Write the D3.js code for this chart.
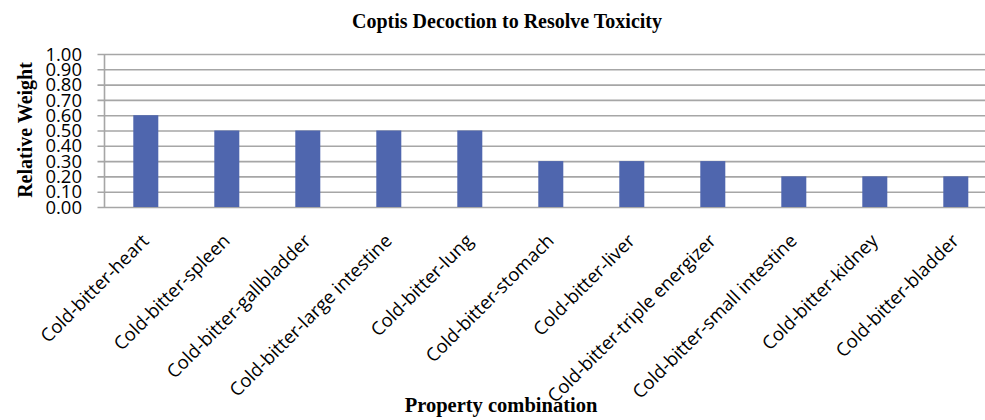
<!DOCTYPE html>
<html>
<head>
<meta charset="utf-8">
<script src="https://cdn.jsdelivr.net/npm/d3@7/dist/d3.min.js"></script>
<style>
  html, body { margin: 0; padding: 0; background: #fff; }
  svg { display: block; }
</style>
</head>
<body>
<svg id="chart" width="985" height="420"></svg>
<script>
// Property combinations and their relative weights
const categories = [
  "Cold-bitter-heart",
  "Cold-bitter-spleen",
  "Cold-bitter-gallbladder",
  "Cold-bitter-large intestine",
  "Cold-bitter-lung",
  "Cold-bitter-stomach",
  "Cold-bitter-liver",
  "Cold-bitter-triple energizer",
  "Cold-bitter-small intestine",
  "Cold-bitter-kidney",
  "Cold-bitter-bladder"
];
const weights = [0.60, 0.50, 0.50, 0.50, 0.50, 0.30, 0.30, 0.30, 0.20, 0.20, 0.20];
const yTicks = [0, 0.1, 0.2, 0.3, 0.4, 0.5, 0.6, 0.7, 0.8, 0.9, 1.0];

const titleText = "Coptis Decoction to Resolve Toxicity";
const xTitle = "Property combination";
const yTitle = "Relative Weight";

const svg = d3.select("#chart");

// Plot area (the right edge runs slightly past the canvas)
const plotLeft = 104.5, plotRight = 995.5, plotTop = 54, plotBottom = 207;

const x = d3.scaleBand().domain(categories).range([plotLeft, plotRight]).paddingInner(0).paddingOuter(0);
const y = d3.scaleLinear().domain([0, 1]).range([plotBottom, plotTop]);

const gridColor = "#a6a6a6";
const barColor = "#4f66ae";

// Horizontal gridlines with short tick stubs left of the axis
svg.append("g")
  .attr("transform", `translate(${plotLeft},0)`)
  .call(d3.axisLeft(y).tickValues(yTicks).tickSize(-(plotRight - plotLeft)).tickFormat(""))
  .call(g => g.select(".domain").remove())
  .call(g => g.selectAll("line")
      .attr("x1", -7)
      .attr("stroke", gridColor)
      .attr("stroke-width", 1.6));

// Y tick labels
svg.append("g")
  .selectAll("text")
  .data(yTicks)
  .join("text")
  .attr("x", 82)
  .attr("y", d => y(d))
  .attr("dy", "0.36em")
  .attr("text-anchor", "end")
  .attr("font-family", "'Open Sans', sans-serif")
  .attr("font-size", 18.5)
  .attr("fill", "#000")
  .text(d => d3.format(".2f")(d));

// Bars
const barW = 25;
svg.append("g")
  .selectAll("rect")
  .data(categories.map((c, i) => ({ c, v: weights[i] })))
  .join("rect")
  .attr("x", d => x(d.c) + x.bandwidth() / 2 - barW / 2 + 0.8)
  .attr("y", d => y(d.v))
  .attr("width", barW)
  .attr("height", d => y(0) - y(d.v))
  .attr("fill", barColor);

// Y axis line
svg.append("line")
  .attr("x1", plotLeft).attr("x2", plotLeft)
  .attr("y1", plotTop).attr("y2", plotBottom)
  .attr("stroke", gridColor)
  .attr("stroke-width", 1.6);

// Rotated category labels
svg.append("g")
  .selectAll("text")
  .data(categories)
  .join("text")
  .attr("transform", d => `translate(${x(d) + x.bandwidth() / 2 + 5},${242}) rotate(-45)`)
  .attr("text-anchor", "end")
  .attr("font-family", "'Open Sans', sans-serif")
  .attr("font-size", 18.5)
  .attr("fill", "#000")
  .text(d => d);

// Title
svg.append("text")
  .attr("x", 507).attr("y", 28)
  .attr("text-anchor", "middle")
  .attr("font-family", "'Liberation Serif', 'Times New Roman', serif")
  .attr("font-weight", "bold")
  .attr("font-size", 20)
  .text(titleText);

// X axis title
svg.append("text")
  .attr("x", 501).attr("y", 412)
  .attr("text-anchor", "middle")
  .attr("font-family", "'Liberation Serif', 'Times New Roman', serif")
  .attr("font-weight", "bold")
  .attr("font-size", 20.5)
  .text(xTitle);

// Y axis title
svg.append("text")
  .attr("transform", `translate(32,130) rotate(-90)`)
  .attr("text-anchor", "middle")
  .attr("font-family", "'Liberation Serif', 'Times New Roman', serif")
  .attr("font-weight", "bold")
  .attr("font-size", 20)
  .text(yTitle);
</script>
</body>
</html>
